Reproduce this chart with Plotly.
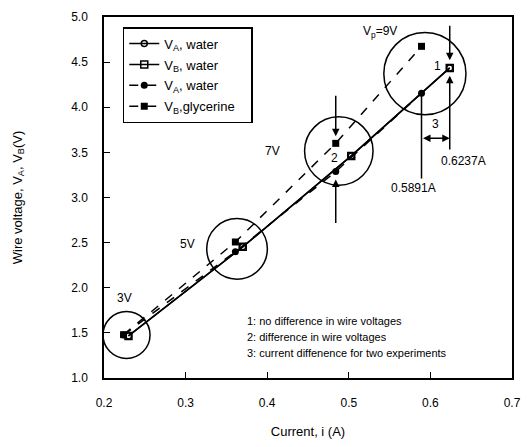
import plotly.graph_objects as go

# ---- data ----
va_water_x = [0.230, 0.370, 0.503, 0.6237]
va_water_y = [1.466, 2.453, 3.461, 4.436]
vb_water_x = [0.230, 0.370, 0.503, 0.6237]
vb_water_y = [1.466, 2.453, 3.461, 4.436]
va2_water_x = [0.224, 0.361, 0.484, 0.5891]
va2_water_y = [1.477, 2.400, 3.287, 4.155]
vb_gly_x = [0.224, 0.361, 0.484, 0.5891]
vb_gly_y = [1.480, 2.507, 3.600, 4.675]

x_ticks = [0.2, 0.3, 0.4, 0.5, 0.6, 0.7]
y_ticks = [1.0, 1.5, 2.0, 2.5, 3.0, 3.5, 4.0, 4.5, 5.0]

FONT = "Liberation Sans, Arial, sans-serif"
NB = "\u00a0"

fig = go.Figure()
fig.add_trace(go.Scatter(x=va_water_x, y=va_water_y, mode="lines+markers",
                         name="V<sub>A</sub>, water", legendgroup="a",
                         line=dict(color="black", width=1.5),
                         marker=dict(symbol="circle-open", size=6, color="black", line=dict(width=1.5))))
fig.add_trace(go.Scatter(x=vb_water_x, y=vb_water_y, mode="lines+markers",
                         name="V<sub>B</sub>, water", legendgroup="b",
                         line=dict(color="black", width=1.5),
                         marker=dict(symbol="square-open", size=7, color="black", line=dict(width=1.5))))
fig.add_trace(go.Scatter(x=va2_water_x, y=va2_water_y, mode="lines+markers",
                         name="V<sub>A</sub>, water", legendgroup="c",
                         line=dict(color="black", width=1.5, dash="dash"),
                         marker=dict(symbol="circle", size=7, color="black")))
fig.add_trace(go.Scatter(x=vb_gly_x, y=vb_gly_y, mode="lines+markers",
                         name="V<sub>B</sub>,glycerine" + NB * 3, legendgroup="d",
                         line=dict(color="black", width=1.5, dash="dash"),
                         marker=dict(symbol="square", size=7, color="black")))

# circles around voltage groups
circles = [
    (0.1988, 0.2564, 1.217, 1.737),
    (0.3259, 0.4002, 2.095, 2.767),
    (0.4458, 0.5297, 3.135, 3.894),
    (0.5429, 0.6436, 3.916, 4.827),
]
shapes = []
for x0, x1, y0, y1 in circles:
    shapes.append(dict(type="circle", xref="x", yref="y", x0=x0, x1=x1, y0=y0, y1=y1,
                       line=dict(color="black", width=1.5)))
# vertical drop line at 0.5891
shapes.append(dict(type="line", xref="x", yref="y", x0=0.5891, x1=0.5891, y0=4.155, y1=3.21,
                   line=dict(color="black", width=1.5)))

ann = []
def arrow(x, y, ax, ay, side="end"):
    ann.append(dict(x=x, y=y, ax=ax, ay=ay, xref="x", yref="y", axref="x", ayref="y",
                    showarrow=True, arrowhead=2, arrowsize=1, arrowwidth=1.5,
                    arrowcolor="black", arrowside=side, text=""))

arrow(0.6237, 4.52, 0.6237, 4.92)
arrow(0.6237, 4.35, 0.6237, 3.515)
arrow(0.484, 3.678, 0.484, 4.144)
arrow(0.484, 3.20, 0.484, 2.70)
arrow(0.6237, 3.656, 0.5891, 3.656, side="end+start")

def label(x, y, t, size=12, xanchor="center"):
    ann.append(dict(x=x, y=y, xref="x", yref="y", text=t, showarrow=False,
                    xanchor=xanchor, font=dict(family=FONT, size=size, color="black")))

label(0.538, 4.83, "V<sub>p</sub>=9V")
label(0.609, 4.458, "1")
label(0.483, 3.44, "2")
label(0.606, 3.81, "3")
label(0.641, 3.407, "0.6237A")
label(0.579, 3.103, "0.5891A")
label(0.407, 3.515, "7V")
label(0.302, 2.485, "5V")
label(0.225, 1.889, "3V")
label(0.373, 1.629, "1: no difference in wire voltages", size=11, xanchor="left")
label(0.373, 1.455, "2: difference in wire voltages", size=11, xanchor="left")
label(0.373, 1.282, "3: current diffenence for two experiments", size=11, xanchor="left")

fig.update_layout(
    width=531, height=447,
    margin=dict(l=104, r=10, t=13, b=65),
    paper_bgcolor="white", plot_bgcolor="white",
    font=dict(family=FONT, size=12, color="black"),
    shapes=shapes, annotations=ann,
    legend=dict(x=0.046, y=0.972, xanchor="left", yanchor="top",
                bordercolor="black", borderwidth=1.5, bgcolor="white",
                font=dict(family=FONT, size=13), tracegroupgap=1, itemwidth=30),
)
fig.update_xaxes(range=[0.2, 0.7], tickvals=x_ticks, ticktext=[f"{v:.1f}" for v in x_ticks],
                 showline=True, linecolor="black", linewidth=1.5, mirror=True,
                 ticks="inside", ticklen=6, tickcolor="black", showgrid=False, zeroline=False,
                 ticklabelstandoff=13, ticklabeloverflow="allow",
                 title=dict(text="Current, i (A)", font=dict(family=FONT, size=13), standoff=18))
fig.update_yaxes(range=[1.0, 5.0], tickvals=y_ticks, ticktext=[f"{v:.1f}" for v in y_ticks],
                 showline=True, linecolor="black", linewidth=1.5, mirror=True,
                 ticks="inside", ticklen=6, tickcolor="black", showgrid=False, zeroline=False,
                 ticklabelstandoff=12,
                 title=dict(text="Wire voltage, V<sub>A</sub>, V<sub>B</sub>(V)",
                            font=dict(family=FONT, size=13), standoff=46))

fig.write_html("out.html", config={"displayModeBar": False},
               post_script="document.body.style.margin='0';document.body.style.overflow='hidden';")
